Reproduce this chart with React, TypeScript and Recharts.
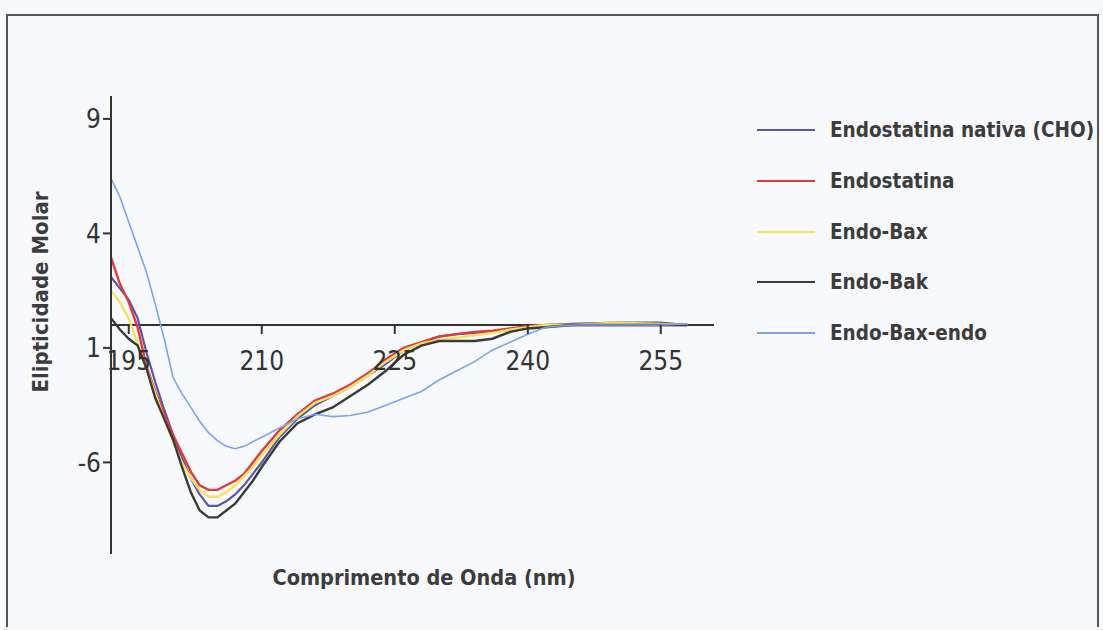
import React from "react";
import {
  LineChart,
  Line,
  XAxis,
  YAxis,
  ReferenceLine,
  Legend,
} from "recharts";

// wavelengths (nm), shared by all series
const wavelengths = [
  193, 194, 195, 196, 197, 198, 199, 200, 201, 202, 203, 204, 205, 206, 207,
  208, 209, 210, 212, 214, 216, 218, 220, 222, 224, 226, 228, 230, 232, 234,
  236, 238, 240, 242, 245, 250, 255, 258,
];

const nativaCho = [
  2.1, 1.6, 1.1, 0.3, -1.2, -2.5, -3.7, -4.8, -5.8, -6.7, -7.4, -7.9, -7.9,
  -7.7, -7.4, -7.0, -6.5, -6.0, -4.9, -4.1, -3.5, -3.1, -2.7, -2.2, -1.7, -1.1,
  -0.8, -0.5, -0.4, -0.35, -0.3, -0.2, -0.05, 0, 0.05, 0.1, 0.1, 0,
];
const endostatina = [
  2.95, 1.8, 1.0, -0.1, -1.8, -2.9, -3.9, -4.8, -5.6, -6.4, -7.0, -7.2, -7.2,
  -7.0, -6.8, -6.5, -6.0, -5.5, -4.6, -3.9, -3.3, -3.0, -2.6, -2.1, -1.5, -1.0,
  -0.75, -0.5, -0.4, -0.3, -0.25, -0.15, -0.05, 0, 0, 0, 0, 0,
];
const endoBax = [
  1.5, 1.0, 0.3, -0.8, -1.9, -3.0, -4.1, -5.1, -6.0, -6.7, -7.2, -7.5, -7.5,
  -7.3, -7.0, -6.6, -6.2, -5.7, -4.8, -4.0, -3.4, -3.1, -2.7, -2.2, -1.6, -1.1,
  -0.8, -0.65, -0.55, -0.45, -0.35, -0.2, -0.1, 0, 0, 0.1, 0.05, 0,
];
const endoBak = [
  0.3, -0.2, -0.6, -0.9, -1.9, -3.2, -4.1, -5.0, -6.2, -7.3, -8.1, -8.4, -8.4,
  -8.1, -7.8, -7.3, -6.8, -6.2, -5.1, -4.3, -3.9, -3.6, -3.1, -2.6, -2.0, -1.3,
  -0.9, -0.7, -0.7, -0.7, -0.6, -0.3, -0.15, -0.1, 0, 0, 0, 0,
];
const endoBaxEndo = [
  6.4, 5.6, 4.5, 3.4, 2.3, 0.9, -0.6, -2.3, -3.0, -3.6, -4.2, -4.7, -5.05,
  -5.3, -5.4, -5.3, -5.1, -4.9, -4.5, -4.1, -3.9, -4.0, -3.95, -3.8, -3.5,
  -3.2, -2.9, -2.4, -2.0, -1.6, -1.1, -0.75, -0.4, -0.1, 0, 0, 0, 0.05,
];

const xTicks = [195, 210, 225, 240, 255];
const yTicks = [9, 4, -1, -6];
const yTickLabels = ["9", "4", "1", "-6"];

const series = [
  { key: "nativa", name: "Endostatina nativa (CHO)", values: nativaCho, color: "#5b54a8", width: 2.2 },
  { key: "endostatina", name: "Endostatina", values: endostatina, color: "#e3383c", width: 2.4 },
  { key: "bax", name: "Endo-Bax", values: endoBax, color: "#f2e35e", width: 2.4 },
  { key: "bak", name: "Endo-Bak", values: endoBak, color: "#3a3a3a", width: 2.4 },
  { key: "baxEndo", name: "Endo-Bax-endo", values: endoBaxEndo, color: "#7aa4ec", width: 1.6 },
];

const data = wavelengths.map((w, i) => {
  const row: Record<string, number> = { nm: w };
  series.forEach((s) => (row[s.key] = s.values[i]));
  return row;
});

// layout
const W = 1103;
const H = 630;
const PLOT_TOP = 96;
const PLOT_BOTTOM = 554;
const Y_MIN = -10;
const Y_MAX = 10;
const ZERO_Y = PLOT_TOP + ((PLOT_BOTTOM - PLOT_TOP) * Y_MAX) / (Y_MAX - Y_MIN);

const NARROW = "'Liberation Sans Narrow', 'Arial Narrow', 'DejaVu Sans Condensed', sans-serif";
const INK = "#333";

function XTick({ x, payload }: { x?: number; payload?: { value: number } }) {
  return (
    <g>
      <line x1={x} x2={x} y1={ZERO_Y} y2={ZERO_Y + 9} stroke={INK} strokeWidth={2} />
      <text
        x={x}
        y={ZERO_Y + 45}
        textAnchor="middle"
        fill={INK}
        fontSize={26}
        fontFamily={NARROW}
      >
        {payload?.value}
      </text>
    </g>
  );
}

function SeriesLegend({ payload }: { payload?: any[] }) {
  const order = (p: any) => series.findIndex((s) => s.key === p.dataKey);
  const items = [...(payload ?? [])].sort((a, b) => order(a) - order(b));
  return (
    <div style={{ fontFamily: NARROW }}>
      {items.map((p) => (
        <div
          key={p.value}
          style={{ display: "flex", alignItems: "center", height: 50.7 }}
        >
          <span
            style={{
              display: "inline-block",
              width: 58,
              height: 2,
              backgroundColor: p.color,
              marginRight: 15,
            }}
          />
          <span
            style={{
              fontWeight: 700,
              fontSize: 20.5,
              color: "#3c3c3c",
              whiteSpace: "nowrap",
            }}
          >
            {p.value}
          </span>
        </div>
      ))}
    </div>
  );
}

export default function App() {
  return (
    <div
      style={{
        position: "absolute",
        left: 0,
        top: 0,
        width: W,
        height: H,
        background: "#f7f9fc",
      }}
    >
      <div
        style={{
          position: "absolute",
          left: 6,
          top: 14,
          width: 1093,
          height: 613,
          border: "2px solid #555",
          boxSizing: "border-box",
          borderBottom: "none",
        }}
      />
      <div
        style={{
          position: "absolute",
          left: 40,
          top: 292,
          transform: "translate(-50%, -50%) rotate(-90deg)",
          fontFamily: NARROW,
          fontWeight: 700,
          fontSize: 22,
          color: "#3c3c3c",
          whiteSpace: "nowrap",
        }}
      >
        Elipticidade Molar
      </div>
      <div
        style={{
          position: "absolute",
          left: 424,
          top: 577,
          transform: "translate(-50%, -50%)",
          fontFamily: NARROW,
          fontWeight: 700,
          fontSize: 21.5,
          color: "#3c3c3c",
          whiteSpace: "nowrap",
        }}
      >
        Comprimento de Onda (nm)
      </div>
      <LineChart
        width={W}
        height={H}
        data={data}
        margin={{ top: PLOT_TOP, right: 389, left: 51, bottom: H - PLOT_BOTTOM - 30 }}
        style={{ position: "absolute", left: 0, top: 0 }}
      >
        <XAxis
          dataKey="nm"
          type="number"
          domain={[193, 261]}
          ticks={xTicks}
          allowDataOverflow
          axisLine={false}
          tickLine={false}
          tick={<XTick />}
          height={30}
          interval={0}
        />
        <YAxis
          type="number"
          domain={[Y_MIN, Y_MAX]}
          ticks={yTicks}
          width={60}
          interval={0}
          axisLine={{ stroke: INK, strokeWidth: 2 }}
          tickLine={{ stroke: INK, strokeWidth: 2 }}
          tickSize={8}
          tickFormatter={(v) => yTickLabels[yTicks.indexOf(v)] ?? String(v)}
          tick={{ fill: INK, fontSize: 26, fontFamily: NARROW }}
        />
        <ReferenceLine y={0} stroke={INK} strokeWidth={2} />
        <Legend
          layout="vertical"
          verticalAlign="middle"
          align="center"
          content={<SeriesLegend />}
          wrapperStyle={{ left: 757, top: 105, width: 345 }}
        />
        {series.map((s) => (
          <Line
            key={s.key}
            type="linear"
            dataKey={s.key}
            name={s.name}
            stroke={s.color}
            strokeWidth={s.width}
            dot={false}
            isAnimationActive={false}
          />
        ))}
      </LineChart>
    </div>
  );
}
